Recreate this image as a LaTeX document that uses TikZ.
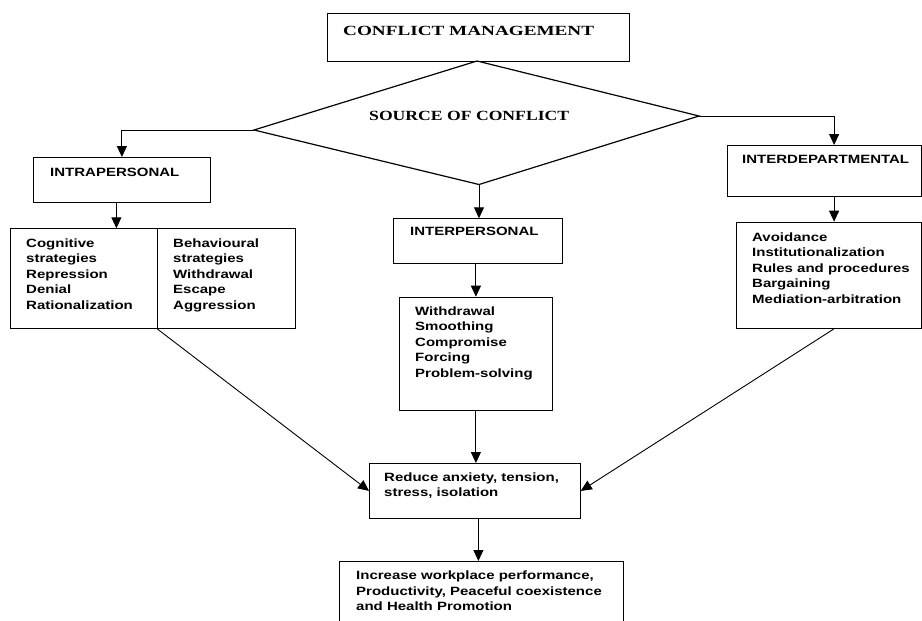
\documentclass[tikz,border=0pt]{standalone}
\usepackage{fontspec}
\newfontfamily\sansb[FakeStretch=1.25]{Liberation Sans}
\newfontfamily\serifa[FakeStretch=1.37]{Liberation Serif}
\newfontfamily\serifb[FakeStretch=1.26]{Liberation Serif}
\usetikzlibrary{arrows.meta}
\begin{document}
\begin{tikzpicture}[x=1pt,y=-1pt,
  box/.style={draw, line width=0.8pt, inner sep=0pt, anchor=north west, rectangle},
  arr/.style={line width=0.9pt, -{Triangle[length=11pt,width=10pt]}},
  stxt/.style={anchor=north west, inner sep=0pt, align=left, font=\sansb\bfseries\fontsize{12}{15.6}\selectfont},
  ttxt/.style={anchor=north west, inner sep=0pt, font=\serifb\bfseries\fontsize{14}{16}\selectfont}]
\useasboundingbox (0,0) rectangle (922,621);
\clip (0,0) rectangle (922,621);
% boxes
\node[box, minimum width=302pt, minimum height=48pt] (cm) at (327,13) {};
\coordinate (dT) at (477,61);
\coordinate (dL) at (254,130);
\coordinate (dR) at (699,116);
\coordinate (dB) at (479,184.5);
\draw[line width=1.2pt, line join=miter] (dT) -- (dR) -- (dB) -- (dL) -- cycle;
\node[box, minimum width=177pt, minimum height=45pt] (intra) at (33,157) {};
\node[box, minimum width=146.7pt, minimum height=100pt] (cog) at (10,228.3) {};
\node[box, minimum width=138.3pt, minimum height=100pt] (beh) at (156.7,228.3) {};
\node[box, minimum width=168.4pt, minimum height=44.4pt] (inter) at (393.3,218.3) {};
\node[box, minimum width=152.4pt, minimum height=113.3pt] (wd) at (399.3,296.7) {};
\node[box, minimum width=194pt, minimum height=51pt] (idep) at (726.7,145) {};
\node[box, minimum width=185pt, minimum height=106.6pt] (av) at (735.7,221.7) {};
\node[box, minimum width=211pt, minimum height=55pt] (red) at (369,463) {};
\node[box, minimum width=284pt, minimum height=70pt] (incr) at (339,561) {};
% texts
\node[ttxt, font=\serifa\bfseries\fontsize{14}{16}\selectfont] (tcm) at (343,26.5) {CONFLICT MANAGEMENT};
\node[ttxt] (tsoc) at (369,111.2) {SOURCE OF CONFLICT};
\node[stxt] (tintra) at (50,168.4) {INTRAPERSONAL};
\node[stxt] (tcog) at (26,238.2) {Cognitive\\strategies\\Repression\\Denial\\Rationalization};
\node[stxt] (tbeh) at (173,238.2) {Behavioural\\strategies\\Withdrawal\\Escape\\Aggression};
\node[stxt] (tinter) at (410,227.4) {INTERPERSONAL};
\node[stxt] (twd) at (415,306.2) {Withdrawal\\Smoothing\\Compromise\\Forcing\\Problem-solving};
\node[stxt] (tidep) at (742,154.7) {INTERDEPARTMENTAL};
\node[stxt] (tav) at (752,232.2) {Avoidance\\Institutionalization\\Rules and procedures\\Bargaining\\Mediation-arbitration};
\node[stxt, font=\sansb\bfseries\fontsize{12}{15}\selectfont] (tred) at (384,472.2) {Reduce anxiety, tension,\\stress, isolation};
\node[stxt, font=\sansb\bfseries\fontsize{12}{15.5}\selectfont] (tincr) at (356,570.7) {Increase workplace performance,\\Productivity, Peaceful coexistence\\and Health Promotion};
% connectors
\draw[arr] (dL) -| (intra.north);
\coordinate (i1) at ([xshift=-5.5pt]intra.south);
\draw[arr] (i1) -- (i1 |- cog.north);
\draw[arr] (dB) -- (dB |- inter.north);
\draw[arr] (inter.south -| wd.north) -- (wd.north);
\draw[arr] (wd.south) -- (wd.south |- red.north);
\coordinate (r1) at ([xshift=3.5pt]red.south);
\draw[arr] (r1) -- (r1 |- incr.north);
\coordinate (i2) at ([xshift=10pt]idep.north);
\draw[arr] (dR) -| (i2);
\coordinate (i3) at ([xshift=10pt]idep.south);
\draw[arr] (i3) -- (i3 |- av.north);
\draw[arr] (cog.south east) -- (red.west);
\coordinate (a1) at ([xshift=5pt]av.south);
\draw[arr] (a1) -- (red.east);
\end{tikzpicture}
\end{document}
